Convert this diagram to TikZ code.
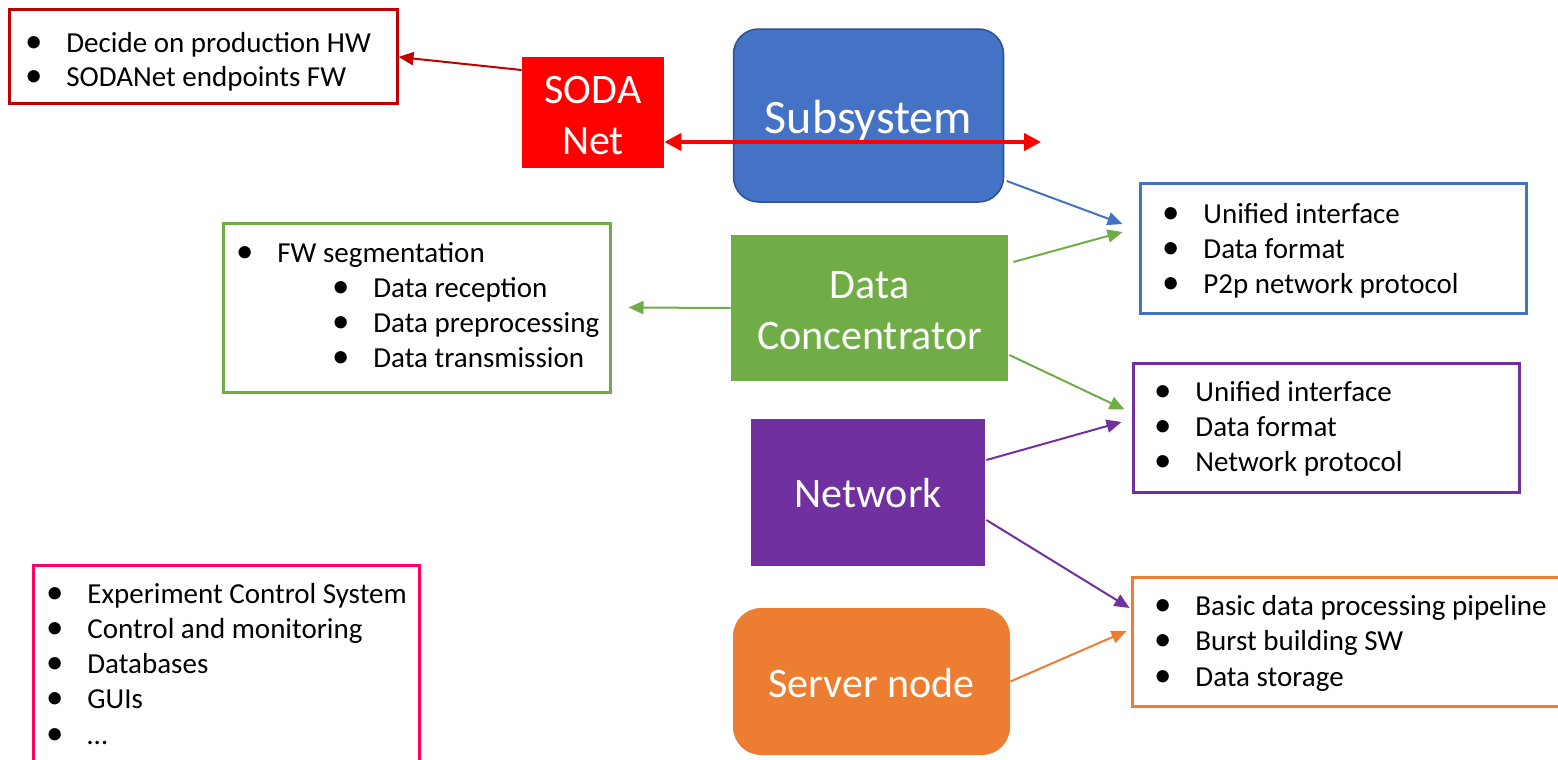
\documentclass[tikz,border=0pt]{standalone}
\usepackage{fontspec}
\setmainfont{Carlito}
\usetikzlibrary{arrows.meta,calc}

\definecolor{cBlue}{HTML}{4472C4}
\definecolor{cBlueDk}{HTML}{2F528F}
\definecolor{cGreen}{HTML}{70AD47}
\definecolor{cPurple}{HTML}{7030A0}
\definecolor{cOrange}{HTML}{ED7D31}
\definecolor{cDkRed}{HTML}{C00000}
\definecolor{cRed}{HTML}{FF0000}
\definecolor{cPink}{HTML}{FF0066}

% bullet hanging to the left of an item
\newcommand{\bul}{\llap{\scalebox{1.2}{\textbullet}\hspace{12pt}}}
% lower a label line without changing its box
\newcommand{\lowr}[2][1.5pt]{\raisebox{-#1}[\height][\depth]{#2}}

\begin{document}
\begin{tikzpicture}[x=0.5pt,y=-0.5pt,
  block/.style={fill=#1, text=white, align=center, inner sep=0pt,
    font=\fontsize{21}{25.5}\selectfont},
  listbox/.style={draw=#1, line width=1.5pt, inner sep=0pt},
  item/.style={anchor=base west, inner sep=0pt, font=\fontsize{14.5}{17.5}\selectfont},
  link/.style={draw=#1, line width=1pt, -{Triangle[length=7.5pt,width=6.5pt]}},
  biglink/.style={draw=#1, line width=2pt,
    {Triangle[length=8.5pt,width=8.5pt]}-{Triangle[length=8.5pt,width=8.5pt]}}]

\clip (0,0) rectangle (1558,760);

% ---- main blocks ----
\node[block=cRed, minimum width=71pt, minimum height=55.5pt] (soda) at (593,112.5) {\lowr{SODA}\\\lowr{Net}};
\node[block=cBlue, draw=cBlueDk, line width=0.75pt, rounded corners=12.5pt,
      minimum width=135pt, minimum height=86.5pt,
      font=\fontsize{24}{28}\selectfont] (sub) at (868.5,115.5) {\lowr[2.5pt]{Subsystem}};
\node[block=cGreen, minimum width=138.5pt, minimum height=73pt] (dc) at (869.5,308) {\lowr[1.2pt]{Data}\\\lowr[1.2pt]{Concentrator}};
\node[block=cPurple, minimum width=117pt, minimum height=73.5pt] (net) at (868,492.5) {\lowr[0.5pt]{Network}};
\node[block=cOrange, rounded corners=14pt, minimum width=138.5pt, minimum height=73.5pt] (srv) at (871.5,681.5) {\lowr[1pt]{Server node}};

% ---- description boxes ----
\node[listbox=cDkRed, minimum width=194pt, minimum height=47pt] (hw) at (203,56) {};
\node[listbox=cBlue, minimum width=193pt, minimum height=65pt] (ifc) at (1333,248) {};
\node[listbox=cGreen, minimum width=193.5pt, minimum height=84.5pt] (fw) at (416.5,307.5) {};
\node[listbox=cPurple, minimum width=193pt, minimum height=64.5pt] (nif) at (1326,427.5) {};
\node[listbox=cOrange, minimum width=234pt, minimum height=64.5pt] (srvl) at (1366,641.5) {};
\node[listbox=cPink, minimum width=193pt, minimum height=117.5pt] (ecs) at (226,682.5) {};

% ---- list texts ----
\foreach \txt [count=\i] in {Decide on production HW, SODANet endpoints FW}
  \node[item] (hw-\i) at (66,{52+34.5*(\i-1)}) {\bul\txt};
\foreach \txt [count=\i] in {Unified interface, Data format, P2p network protocol}
  \node[item] (ifc-\i) at (1203,{223+35*(\i-1)}) {\bul\txt};
\node[item] (fw-0) at (277,262) {\bul FW segmentation};
\foreach \txt [count=\i] in {Data reception, Data preprocessing, Data transmission}
  \node[item] (fw-\i) at (373,{297+35*(\i-1)}) {\bul\txt};
\foreach \txt [count=\i] in {Unified interface, Data format, Network protocol}
  \node[item] (nif-\i) at (1195,{401+35*(\i-1)}) {\bul\txt};
\foreach \txt [count=\i] in {Basic data processing pipeline, Burst building SW, Data storage}
  \node[item] (srvl-\i) at (1195,{615+35.5*(\i-1)}) {\bul\txt};
\foreach \txt [count=\i] in {Experiment Control System, Control and monitoring, Databases, GUIs, \dots}
  \node[item] (ecs-\i) at (87,{603+35.25*(\i-1)}) {\bul\txt};

% ---- connectors ----
\coordinate (redend) at (1041,142);
\draw[link=cDkRed] ($(soda.west)+(0,-42.5)$) -- ($(hw.east)+(0,1)$);
\draw[biglink=cRed] ($(soda.east)+(0,29.5)$) -- (redend);
\draw[link=cBlue] ($(sub.east)+(2.5,65.5)$) -- ($(ifc.west)+(-16,-24)$);
\draw[link=cGreen] ($(dc.east)+(5,-46)$) -- ($(ifc.west)+(-16,-16)$);
\draw[link=cGreen] (dc.west) -- ($(fw.east)+(17,0)$);
\draw[link=cGreen] ($(dc.east)+(1,47)$) -- ($(nif.west)+(-7,-18)$);
\draw[link=cPurple] ($(net.east)+(1,-32.5)$) -- ($(nif.west)+(-10,-5.5)$);
\draw[link=cPurple] ($(net.east)+(1,27.5)$) -- ($(srvl.west)+(-1,-33.5)$);
\draw[link=cOrange] (srv.east) -- ($(srvl.west)+(-4,-10.5)$);
\end{tikzpicture}
\end{document}
